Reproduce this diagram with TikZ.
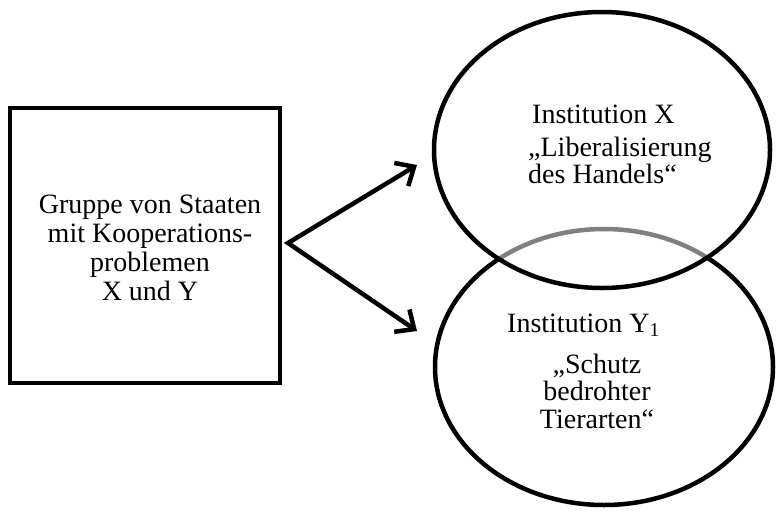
\documentclass[tikz,border=0pt]{standalone}
\usepackage{fontspec}
\setmainfont{Liberation Serif}
\usetikzlibrary{shapes.geometric,arrows.meta}
\begin{document}
\begin{tikzpicture}[x=1pt,y=-1pt,
  outline/.style={draw, line width=4.5pt},
  bubble/.style={outline, ellipse, inner sep=0pt, minimum width=336pt, minimum height=276pt},
  txt/.style={inner sep=0pt, font=\fontsize{28}{29}\selectfont},
  forkarrow/.style={line width=4.5pt, line join=miter,
    {Straight Barb[length=15pt,width=27pt]}-{Straight Barb[length=15pt,width=27pt]}}
]
\useasboundingbox (0,0) rectangle (776,512);

% the group of states
\node[outline, minimum width=270pt, minimum height=275pt, inner sep=0pt] (group) at (145,245.5) {};
\node[txt, align=center, anchor=base] (grouptext) at (150,300)
  {Gruppe von Staaten\\mit Kooperations-\\problemen\\X und Y};

% institution Y1 first, so that institution X veils its upper arc
\node[bubble, minimum width=338pt] (instY) at (604,367) {};
\node[bubble, fill=white, fill opacity=0.5] (instX) at (602,150) {};

\node[txt, anchor=base west] (instXtitle) at (532,123) {Institution X};
\node[txt, font=\fontsize{28}{23}\selectfont, align=left, anchor=base west] (instXtext) at (528,183)
  {„Liberalisierung\\des Handels“};

\node[txt, anchor=base west] (instYtitle) at (507,332) {Institution Y\textsubscript{1}};
\node[txt, font=\fontsize{28}{27.5}\selectfont, align=center, anchor=base] (instYtext) at (597,428)
  {„Schutz\\bedrohter\\Tierarten“};

% the fork of arrows
\coordinate (fork) at (288,243);
\coordinate (tipX) at (417,165);
\coordinate (tipY) at (417,331);
\draw[forkarrow] (tipX) -- (fork) -- (tipY);
\end{tikzpicture}
\end{document}
